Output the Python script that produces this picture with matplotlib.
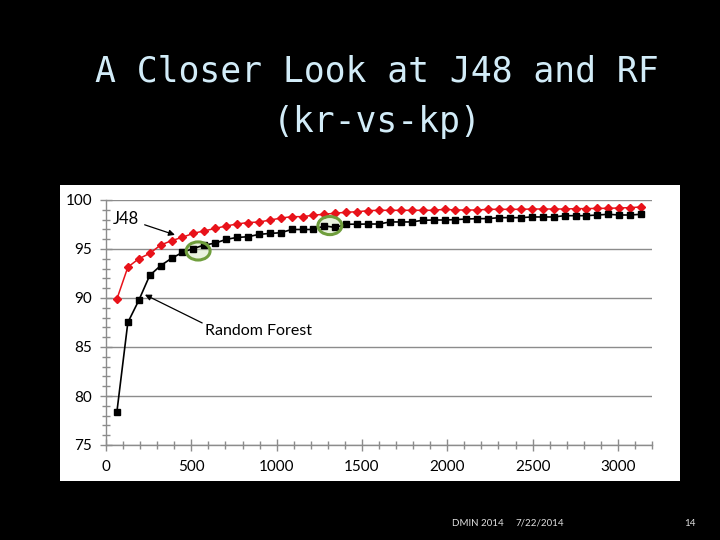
import matplotlib
matplotlib.use("Agg")
import matplotlib.pyplot as plt
from matplotlib.patches import Ellipse
from matplotlib.ticker import MultipleLocator

# training set size (instances), steps of 64
sizes = [64 * k for k in range(1, 50)]

j48_acc = [
    89.9, 93.15, 94.0, 94.55, 95.4, 95.85, 96.2, 96.6, 96.85, 97.1,
    97.35, 97.55, 97.7, 97.75, 97.95, 98.15, 98.3, 98.3, 98.45, 98.55,
    98.65, 98.75, 98.8, 98.91, 98.95, 98.95, 98.95, 98.95, 98.95, 98.95,
    99.05, 98.98, 98.98, 98.98, 99.05, 99.05, 99.05, 99.05, 99.08, 99.08,
    99.08, 99.08, 99.12, 99.12, 99.15, 99.15, 99.19, 99.22, 99.29,
]
rf_acc = [
    78.4, 87.5, 89.75, 92.3, 93.3, 94.05, 94.65, 95.05, 95.4, 95.6,
    95.98, 96.18, 96.25, 96.49, 96.59, 96.66, 96.99, 96.99, 96.99, 97.36,
    97.2, 97.53, 97.53, 97.55, 97.55, 97.76, 97.76, 97.76, 97.93, 97.96,
    97.96, 98.0, 98.06, 98.1, 98.1, 98.2, 98.2, 98.2, 98.27, 98.27,
    98.27, 98.4, 98.4, 98.4, 98.47, 98.54, 98.47, 98.47, 98.54,
]

x_major = [0, 500, 1000, 1500, 2000, 2500, 3000]
y_major = [75, 80, 85, 90, 95, 100]

title = "A Closer Look at J48 and RF\n(kr-vs-kp)"
footer_event = "DMIN 2014"
footer_date = "7/22/2014"
footer_page = "14"

fig = plt.figure(figsize=(7.2, 5.4), dpi=100)
fig.patch.set_facecolor("black")

# white chart box as pasted on the slide
bg = fig.add_axes([60 / 720, 1 - 481 / 540, 620 / 720, 296 / 540])
bg.set_facecolor("white")
bg.set_xticks([])
bg.set_yticks([])
for s in bg.spines.values():
    s.set_visible(False)

fig.text(377 / 720, 1 - 97 / 540, title, ha="center", va="center",
         family="DejaVu Sans Mono", fontsize=25, color="#d2ecf8",
         linespacing=1.6)

fig.text(452 / 720, 1 - 523 / 540, footer_event, ha="left", va="center",
         fontsize=7, color="#e0e0e0", family="Lato")
fig.text(515 / 720, 1 - 523 / 540, footer_date, ha="left", va="center",
         fontsize=7, color="#e0e0e0", family="Lato")
fig.text(690 / 720, 1 - 523 / 540, footer_page, ha="center", va="center",
         fontsize=7, color="#e0e0e0", family="Lato")

ax = fig.add_axes([106 / 720, 1 - 445 / 540, (652 - 106) / 720, 245 / 540])
ax.patch.set_alpha(0)

ax.plot(sizes, j48_acc, color="#e8121a", lw=1.1, marker="D", ms=4.0,
        mec="#e8121a", mfc="#e8121a", zorder=3)
ax.plot(sizes, rf_acc, color="black", lw=1.2, marker="s", ms=4.6,
        mec="black", mfc="black", zorder=3)

ax.set_xlim(0, 3200)
ax.set_ylim(75, 100)
ax.set_xticks(x_major)
ax.set_yticks(y_major)
ax.xaxis.set_minor_locator(MultipleLocator(100))
ax.yaxis.set_minor_locator(MultipleLocator(1))
ax.grid(axis="y", which="major", color="#8c8c8c", lw=1.0, zorder=1)
ax.set_axisbelow(True)

for side in ("top", "right"):
    ax.spines[side].set_visible(False)
for side in ("left", "bottom"):
    ax.spines[side].set_color("#8c8c8c")
    ax.spines[side].set_linewidth(1.0)

ax.tick_params(which="both", direction="inout", color="#8c8c8c", width=1.0,
               labelsize=11, labelcolor="black")
ax.tick_params(which="major", length=8)
ax.tick_params(which="minor", length=6)
ax.tick_params(axis="y", pad=6)
ax.tick_params(axis="x", pad=7)
for lab in ax.get_xticklabels() + ax.get_yticklabels():
    lab.set_family("Lato")

# green highlight rings
for cx, cy in [(540, 94.8), (1312, 97.39)]:
    ax.add_patch(Ellipse((cx, cy), 140, 1.85, facecolor="#cfe6b8", alpha=0.45,
                         edgecolor="none", zorder=2))
    ax.add_patch(Ellipse((cx, cy), 140, 1.85, facecolor="none",
                         edgecolor="#6f9e3c", lw=2.2, zorder=4))

ax.annotate("J48", xy=(404, 96.44), xytext=(41, 98.1), ha="left", va="center",
            fontsize=12, family="Lato",
            arrowprops=dict(arrowstyle="-|>", color="black", lw=0.9,
                            mutation_scale=9, shrinkA=2, shrinkB=0))
ax.annotate("Random Forest", xy=(228, 90.34), xytext=(580, 86.6), ha="left",
            va="center", fontsize=11.5, family="Lato",
            arrowprops=dict(arrowstyle="-|>", color="black", lw=0.9,
                            mutation_scale=9, shrinkA=0, shrinkB=0,
                            relpos=(0.0, 1.0)))

fig.savefig("out.png", dpi=100, facecolor=fig.get_facecolor())
